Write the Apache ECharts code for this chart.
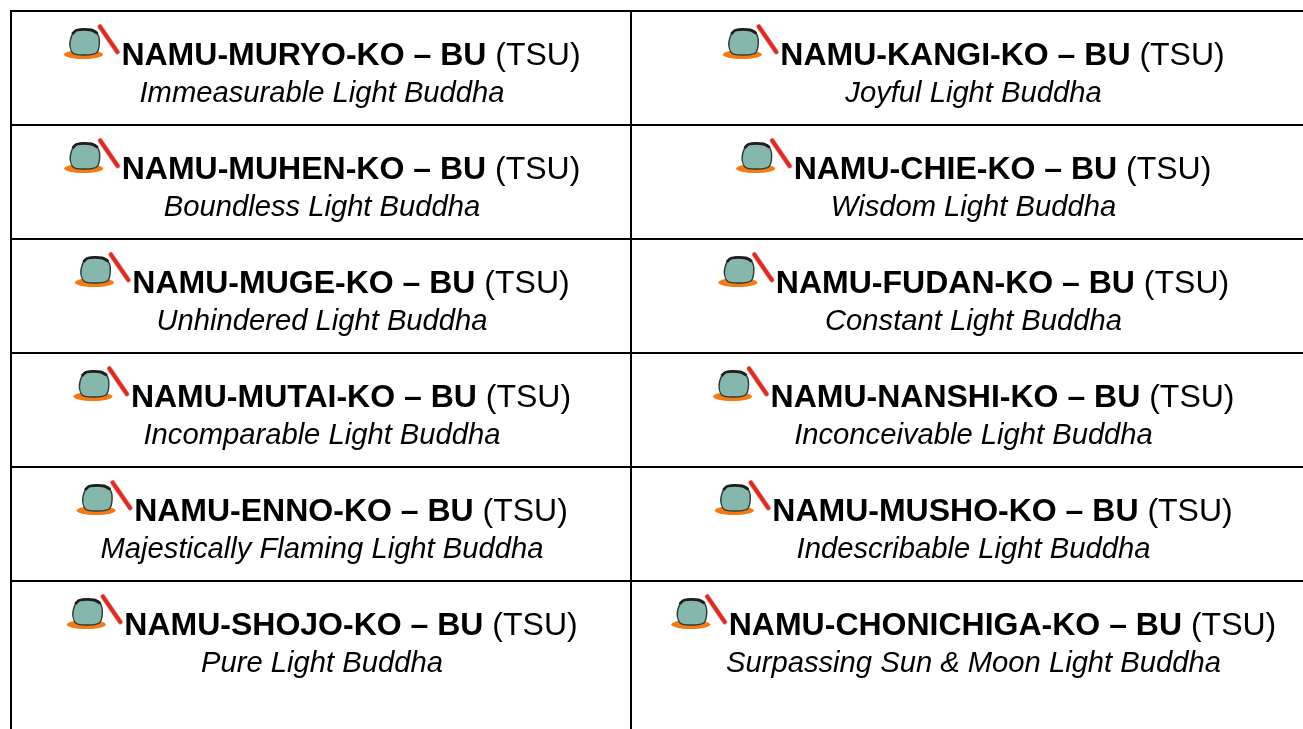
<!DOCTYPE html>
<html><head><meta charset="utf-8">
<style>html,body{margin:0;padding:0;background:#fff;overflow:hidden}#c{width:1303px;height:729px}</style>
<script src="https://cdn.jsdelivr.net/npm/echarts@6/dist/echarts.min.js"></script></head>
<body><div id="c"></div>
<script>
const rowKeys = ['r1','r2','r3','r4','r5','r6'];
const leftNames = ['NAMU-MURYO-KO','NAMU-MUHEN-KO','NAMU-MUGE-KO','NAMU-MUTAI-KO','NAMU-ENNO-KO','NAMU-SHOJO-KO'];
const leftMeanings = ['Immeasurable Light Buddha','Boundless Light Buddha','Unhindered Light Buddha','Incomparable Light Buddha','Majestically Flaming Light Buddha','Pure Light Buddha'];
const rightNames = ['NAMU-KANGI-KO','NAMU-CHIE-KO','NAMU-FUDAN-KO','NAMU-NANSHI-KO','NAMU-MUSHO-KO','NAMU-CHONICHIGA-KO'];
const rightMeanings = ['Joyful Light Buddha','Wisdom Light Buddha','Constant Light Buddha','Inconceivable Light Buddha','Indescribable Light Buddha','Surpassing Sun & Moon Light Buddha'];
const nameEnd = ' \u2013 BU';
const suffix = ' (TSU)';

const FONT = '"Liberation Sans", Arial, sans-serif';
const boldFont = 'bold 32px ' + FONT;
const normalFont = '32px ' + FONT;
const italicFont = 'italic 29.2px ' + FONT;
const ctx = document.createElement('canvas').getContext('2d');
const measure = (t, f) => { ctx.font = f; return ctx.measureText(t).width; };

function bellIcon(x, y) {
  return { type:'group', x, y, children:[
    {type:'ellipse', shape:{cx:20,cy:30.5,rx:19.5,ry:4.6}, style:{fill:'#f47a12'}},
    {type:'polygon', shape:{smooth:0.3,points:[[9,10],[13,6],[28,6],[34,9.5],[36,19],[33,29],[21,31],[10,29.5],[6.5,21]]},
      style:{fill:'#86b7ad',stroke:'#2e3a38',lineWidth:1.4}},
    {type:'polyline', shape:{smooth:0.3,points:[[9,10],[14,6],[28,6],[34,9.5]]}, style:{fill:null,stroke:'#1d1d1d',lineWidth:2.8}},
    {type:'line', shape:{x1:36.5,y1:2.5,x2:54,y2:28}, style:{stroke:'#8a2a20',lineWidth:5,lineCap:'round',opacity:0.45}},
    {type:'line', shape:{x1:36.5,y1:2.5,x2:54,y2:28}, style:{stroke:'#e8261c',lineWidth:3.8,lineCap:'round'}}
  ]};
}

function cellRenderer(names, meanings, centerShift) {
  return function (params, api) {
    const row = api.value(1);
    const c = api.coord([0, row]);
    const w = api.size([1, 1]);
    const bandW = w[0], bandH = w[1];
    const left = c[0] - bandW / 2, top = c[1] - bandH / 2;
    const bottom = row === rowKeys.length - 1 ? api.getHeight() : top + bandH;
    const cx = c[0] + centerShift;
    const name = names[row] + nameEnd;
    const wName = measure(name, boldFont), wSuf = measure(suffix, normalFont);
    const iconW = 58;
    const startX = cx - (iconW + wName + wSuf) / 2;
    const textX = startX + iconW;
    const titleY = c[1] - 12;
    return { type:'group', children:[
      {type:'line', shape:{x1:left,y1:top,x2:left+bandW,y2:top}, style:{stroke:'#000',lineWidth:2}},
      {type:'line', shape:{x1:left,y1:top-1,x2:left,y2:bottom}, style:{stroke:'#000',lineWidth:2}},
      bellIcon(startX, c[1] - 44),
      {type:'text', style:{text:name,x:textX,y:titleY,font:boldFont,fill:'#000',align:'left',verticalAlign:'middle'}},
      {type:'text', style:{text:suffix,x:textX+wName,y:titleY,font:normalFont,fill:'#000',align:'left',verticalAlign:'middle'}},
      {type:'text', style:{text:meanings[row],x:cx,y:c[1]+26,font:italicFont,fill:'#000',align:'center',verticalAlign:'middle'}}
    ]};
  };
}

const hiddenX = i => ({type:'category',gridIndex:i,data:['cell'],show:false});
const hiddenY = i => ({type:'category',gridIndex:i,data:rowKeys,inverse:true,show:false});
const cells = rowKeys.map((_, i) => [0, i]);

const chart = echarts.init(document.getElementById('c'), null, {renderer:'canvas'});
chart.setOption({
  animation:false,
  backgroundColor:'#fff',
  grid:[{left:11,top:11,width:620,height:684},{left:631,top:11,width:672,height:684}],
  xAxis:[hiddenX(0),hiddenX(1)],
  yAxis:[hiddenY(0),hiddenY(1)],
  series:[
    {type:'custom',xAxisIndex:0,yAxisIndex:0,clip:false,silent:true,data:cells,renderItem:cellRenderer(leftNames,leftMeanings,1)},
    {type:'custom',xAxisIndex:1,yAxisIndex:1,clip:false,silent:true,data:cells,renderItem:cellRenderer(rightNames,rightMeanings,6.5)}
  ]
});
</script></body></html>
